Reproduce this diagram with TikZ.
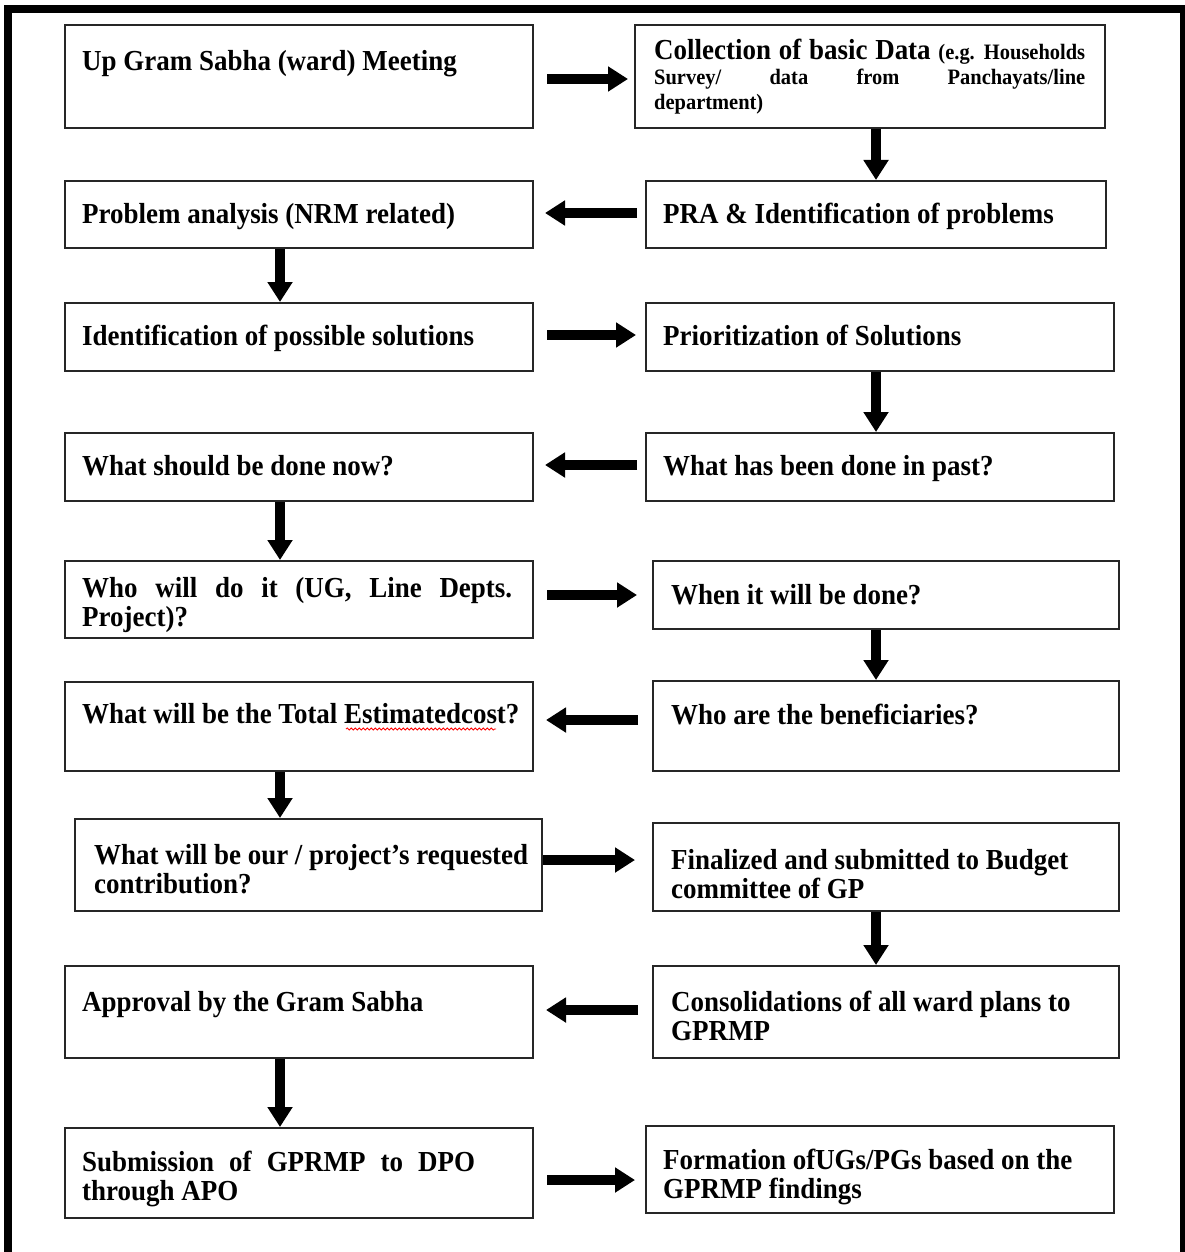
\documentclass[tikz,border=0pt]{standalone}
\usepackage{fontspec}
\newfontfamily\bfont{Liberation Serif}[FakeStretch=0.93]
\usetikzlibrary{arrows.meta,calc,decorations.pathmorphing}
\newcommand\smallf{\fontsize{22}{25}\selectfont}
\newcommand\ns{\spaceskip=0pt\xspaceskip=0pt\relax}
\begin{document}
\begin{tikzpicture}[x=1pt,y=-1pt,
  box/.style={draw=black!85, line width=2pt, inner sep=0pt, anchor=north west},
  txt/.style={anchor=base west, inner sep=0pt, text width=446pt,
    font=\bfont\bfseries\fontsize{29}{29.5}\selectfont},
  arr/.style={draw=black, line width=10pt, -{Triangle[length=20pt,width=24pt]}}]
\useasboundingbox (0,0) rectangle (1185,1252);
\fill[white] (0,0) rectangle (1185,1252);
% outer frame
\draw[line width=8pt, line join=miter] (8,1256) -- (8,9) -- (1184,9) -- (1184,1256);

% boxes
\node[box, minimum width=468pt, minimum height=103pt] (b1) at (64,24) {};
\node[box, minimum width=470pt, minimum height=103pt] (b2) at (634,24) {};
\node[box, minimum width=468pt, minimum height=67pt] (b3) at (64,180) {};
\node[box, minimum width=460pt, minimum height=67pt] (b4) at (645,180) {};
\node[box, minimum width=468pt, minimum height=68pt] (b5) at (64,302) {};
\node[box, minimum width=468pt, minimum height=68pt] (b6) at (645,302) {};
\node[box, minimum width=468pt, minimum height=68pt] (b7) at (64,432) {};
\node[box, minimum width=468pt, minimum height=68pt] (b8) at (645,432) {};
\node[box, minimum width=468pt, minimum height=77pt] (b9) at (64,560) {};
\node[box, minimum width=466pt, minimum height=68pt] (b10) at (652,560) {};
\node[box, minimum width=468pt, minimum height=89pt] (b11) at (64,681) {};
\node[box, minimum width=466pt, minimum height=90pt] (b12) at (652,680) {};
\node[box, minimum width=467pt, minimum height=92pt] (b13) at (74,818) {};
\node[box, minimum width=466pt, minimum height=88pt] (b14) at (652,822) {};
\node[box, minimum width=468pt, minimum height=92pt] (b15) at (64,965) {};
\node[box, minimum width=466pt, minimum height=92pt] (b16) at (652,965) {};
\node[box, minimum width=468pt, minimum height=90pt] (b17) at (64,1127) {};
\node[box, minimum width=468pt, minimum height=87pt] (b18) at (645,1125) {};

% texts
\node[txt] (t1) at (82,71) {\ns Up Gram Sabha (ward) Meeting};
\node[txt, font=\bfont\bfseries\fontsize{29}{25}\selectfont] (t2) at (654,60)
  {\ns\makebox[431pt][s]{Collection of basic Data {\smallf(e.g. Households}}\\
   {\smallf\makebox[431pt][s]{Survey/ data from Panchayats/line}}\\
   {\smallf department)}};
\node[txt] (t3) at (82,223) {\ns Problem analysis (NRM related)};
\node[txt] (t4) at (663,223) {\ns PRA \& Identification of problems};
\node[txt] (t5) at (82,345) {\ns Identification of possible solutions};
\node[txt] (t6) at (663,345) {\ns Prioritization of Solutions};
\node[txt] (t7) at (82,475) {\ns What should be done now?};
\node[txt] (t8) at (663,475) {\ns What has been done in past?};
\node[txt] (t9) at (82,597) {\ns\makebox[430pt][s]{Who will do it (UG, Line Depts.}\\Project)?};
\node[txt] (t10) at (671,604) {\ns When it will be done?};
\node[txt] (t11) at (82,723) {\ns What will be the Total Estimatedcost?};
\node[txt] (t12) at (671,724) {\ns Who are the beneficiaries?};
\node[txt] (t13) at (94,864) {\ns What will be our / project’s requested\\contribution?};
\node[txt] (t14) at (671,869) {\ns Finalized and submitted to Budget\\committee of GP};
\node[txt] (t15) at (82,1011) {\ns Approval by the Gram Sabha};
\node[txt] (t16) at (671,1011) {\ns Consolidations of all ward plans to\\GPRMP};
\node[txt] (t17) at (82,1171) {\ns\makebox[393pt][s]{Submission of GPRMP to DPO}\\through APO};
\node[txt] (t18) at (663,1169) {\ns Formation ofUGs/PGs based on the\\GPRMP findings};

% spell-check squiggle
\draw[red, line width=0.8pt, decorate, decoration={snake, amplitude=1.1pt, segment length=4pt}]
  ($(t11.base west)+(264,6)$) -- ++(150,0);

% helper coordinates
\coordinate (xr) at (876,0);
\coordinate (xl) at (280,0);
\coordinate (y1) at (0,79);
\coordinate (y2) at (0,213);
\coordinate (y3) at (0,335);
\coordinate (y4) at (0,465);
\coordinate (y5) at (0,595);
\coordinate (y6) at (0,720);
\coordinate (y7) at (0,860);
\coordinate (y8) at (0,1010);
\coordinate (y9) at (0,1180);

% connectors
\draw[arr, shorten <=13pt, shorten >=6pt] (b1.east |- y1) -- (b2.west |- y1);
\draw[arr] (b2.south -| xr) -- (b4.north -| xr);
\draw[arr, shorten <=8pt, shorten >=11pt] (b4.west |- y2) -- (b3.east |- y2);
\draw[arr] (b3.south -| xl) -- (b5.north -| xl);
\draw[arr, shorten <=13pt, shorten >=9pt] (b5.east |- y3) -- (b6.west |- y3);
\draw[arr] (b6.south -| xr) -- (b8.north -| xr);
\draw[arr, shorten <=8pt, shorten >=11pt] (b8.west |- y4) -- (b7.east |- y4);
\draw[arr] (b7.south -| xl) -- (b9.north -| xl);
\draw[arr, shorten <=13pt, shorten >=15pt] (b9.east |- y5) -- (b10.west |- y5);
\draw[arr] (b10.south -| xr) -- (b12.north -| xr);
\draw[arr, shorten <=14pt, shorten >=12pt] (b12.west |- y6) -- (b11.east |- y6);
\draw[arr] (b11.south -| xl) -- (b13.north -| xl);
\draw[arr, shorten <=0pt, shorten >=17pt] (b13.east |- y7) -- (b14.west |- y7);
\draw[arr] (b14.south -| xr) -- (b16.north -| xr);
\draw[arr, shorten <=14pt, shorten >=12pt] (b16.west |- y8) -- (b15.east |- y8);
\draw[arr] (b15.south -| xl) -- (b17.north -| xl);
\draw[arr, shorten <=13pt, shorten >=10pt] (b17.east |- y9) -- (b18.west |- y9);
\end{tikzpicture}
\end{document}
